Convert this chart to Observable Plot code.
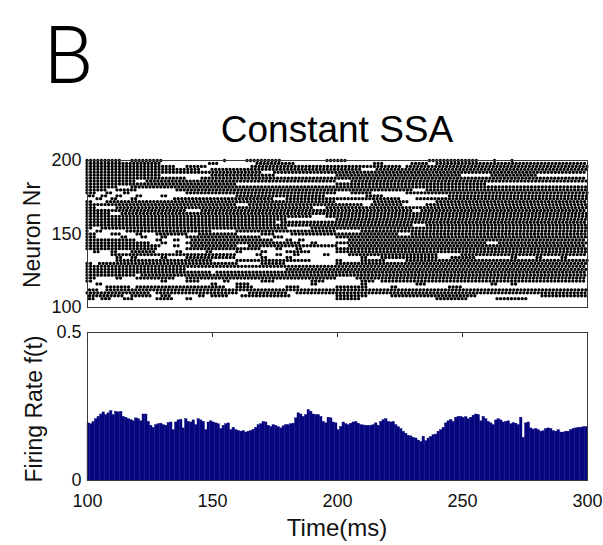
<!DOCTYPE html>
<html><head><meta charset="utf-8">
<script src="https://cdn.jsdelivr.net/npm/d3@7"></script>
<script src="https://cdn.jsdelivr.net/npm/@observablehq/plot@0.6"></script>
<style>
html,body{margin:0;padding:0;background:#fff;}
#fig{position:relative;width:603px;height:545px;overflow:hidden;font-family:"Liberation Sans",Arial,sans-serif;color:#111;}
#fig svg{position:absolute;left:0;}
.abs{position:absolute;white-space:nowrap;}
</style></head><body><div id="fig"></div>
<script>
// ---- data ----
const panelLetter = "B";
const chartTitle = "Constant SSA";
const neuronLabel = "Neuron Nr";
const rateLabel = "Firing Rate f(t)";
const timeLabel = "Time(ms)";

const neuronTicks = [100, 150, 200];
const timeTicks = [100, 150, 200, 250, 300];
const rateTicks = [0, 0.5];

// firing rate per 1 ms bin, t = 100 ... 299 ms
const firingRate = [
  0.193,0.19,0.198,0.207,0.215,0.223,0.23,0.221,0.227,0.234,
  0.221,0.232,0.23,0.232,0.215,0.212,0.207,0.204,0.2,0.21,
  0.207,0.2,0.223,0.223,0.198,0.185,0.178,0.187,0.19,0.192,
  0.187,0.185,0.194,0.196,0.17,0.196,0.203,0.205,0.176,0.207,
  0.198,0.196,0.203,0.187,0.207,0.203,0.198,0.17,0.196,0.2,
  0.196,0.193,0.19,0.174,0.185,0.19,0.193,0.17,0.178,0.17,
  0.167,0.165,0.167,0.162,0.165,0.167,0.171,0.178,0.187,0.19,
  0.198,0.196,0.185,0.181,0.187,0.185,0.18,0.176,0.183,0.187,
  0.187,0.19,0.192,0.21,0.227,0.223,0.215,0.221,0.238,0.232,
  0.223,0.221,0.221,0.215,0.198,0.193,0.212,0.21,0.196,0.193,
  0.17,0.181,0.196,0.19,0.187,0.192,0.196,0.198,0.192,0.187,
  0.186,0.185,0.185,0.185,0.187,0.193,0.185,0.198,0.204,0.207,
  0.198,0.196,0.198,0.187,0.18,0.174,0.165,0.158,0.151,0.149,
  0.144,0.142,0.135,0.13,0.148,0.133,0.142,0.147,0.153,0.155,
  0.165,0.17,0.178,0.193,0.2,0.204,0.198,0.212,0.215,0.215,
  0.212,0.214,0.207,0.212,0.219,0.223,0.221,0.2,0.215,0.207,
  0.198,0.193,0.187,0.203,0.207,0.203,0.196,0.198,0.2,0.19,
  0.194,0.192,0.187,0.212,0.144,0.193,0.196,0.176,0.172,0.174,
  0.17,0.165,0.167,0.174,0.176,0.174,0.167,0.165,0.17,0.162,
  0.162,0.165,0.165,0.17,0.174,0.176,0.178,0.178,0.18,0.18
];
const binStart = d3.range(100, 300); // 1 ms bins

// spike trains: [neuron, first spike (ms), last spike (ms)] of each run of regular spikes
const rasterSegments = [
  [200,100,114],[200,118,130],[200,155,156],[200,164,178],[200,196,204],[200,237,256],[200,263,264],[200,270,271],
  [198,100,130],[198,149,153],[198,168,183],[198,215,218],[198,230,236],[198,240,300],
  [196,100,135],[196,140,148],[196,166,226],[196,228,300],
  [194,100,145],[194,150,210],[194,216,300],
  [192,100,170],[192,175,300],
  [190,100,130],[190,150,175],[190,200,250],[190,262,280],
  [188,100,140],[188,146,300],
  [186,100,120],[186,124,200],[186,206,300],
  [184,100,160],[184,200,260],
  [182,100,112],[182,118,300],
  [180,100,108],[180,112,120],[180,136,230],[180,236,300],
  [178,100,104],[178,108,110],[178,115,117],[178,140,200],[178,206,214],[178,228,300],
  [176,101,103],[176,106,108],[176,112,114],[176,120,122],[176,130,132],[176,160,195],[176,212,218],[176,245,300],
  [174,104,106],[174,110,112],[174,118,120],[174,135,175],[174,180,225],[174,232,300],
  [172,100,102],[172,108,200],[172,215,228],[172,240,300],
  [170,100,160],[170,165,210],[170,214,226],[170,236,300],
  [168,100,104],[168,112,190],[168,196,300],
  [166,100,140],[166,146,230],[166,234,300],
  [164,100,110],[164,114,300],
  [162,100,190],[162,196,300],
  [160,100,180],[160,200,300],
  [158,100,175],[158,178,300],
  [156,100,230],[156,236,300],
  [154,100,102],[154,106,180],[154,190,300],
  [152,100,101],[152,104,106],[152,116,150],[152,160,200],[152,210,300],
  [150,100,104],[150,110,114],[150,120,122],[150,128,140],[150,145,160],[150,170,175],[150,182,225],[150,230,300],
  [148,100,103],[148,114,116],[148,122,124],[148,130,132],[148,140,170],[148,175,178],[148,200,300],
  [146,100,120],[146,128,130],[146,135,137],[146,142,175],[146,180,182],[146,185,187],[146,205,300],
  [144,100,125],[144,130,132],[144,140,185],[144,190,192],[144,200,260],[144,265,300],
  [142,100,130],[142,135,137],[142,142,160],[142,165,200],[142,205,300],
  [140,100,128],[140,140,170],[140,176,178],[140,184,186],[140,200,300],
  [138,103,105],[138,110,112],[138,118,128],[138,136,138],[138,148,150],[138,160,162],[138,170,172],[138,180,190],[138,200,300],
  [136,110,160],[136,168,170],[136,176,178],[136,183,185],[136,195,197],[136,205,240],[136,250,300],
  [134,112,114],[134,118,120],[134,130,132],[134,140,160],[134,170,172],[134,180,182],[134,210,212],[134,218,240],[134,246,256],[134,270,272],[134,280,282],[134,290,292],
  [132,112,150],[132,160,190],[132,200,202],[132,210,220],[132,228,300],
  [130,100,102],[130,105,160],[130,170,180],[130,200,300],
  [128,100,300],
  [126,100,140],[126,180,300],
  [124,100,150],[124,152,300],
  [122,100,120],[122,122,300],
  [120,100,104],[120,112,114],[120,120,135],[120,140,200],[120,208,300],
  [118,100,102],[118,130,132],[118,140,145],[118,155,157],[118,170,175],[118,190,195],[118,210,215],[118,218,300],
  [116,104,106],[116,150,152],[116,160,165],[116,190,192],[116,210,212],[116,232,236],[116,262,264],[116,270,272],
  [114,108,118],[114,120,155],[114,160,166],[114,180,185],[114,200,212],[114,222,224],[114,245,250],
  [112,101,105],[112,108,300],
  [110,100,125],[110,128,160],[110,165,180],[110,184,300],
  [108,101,114],[108,118,126],[108,130,134],[108,145,147],[108,150,156],[108,162,182],[108,200,212],[108,222,256],[108,282,300],
  [106,101,103],[106,106,110],[106,115,118],[106,128,134],[106,140,142],[106,200,210],[106,240,252],[106,264,276]
];

// ---- tables for the library ----
const segTable = rasterSegments.map(([neuron, start, end]) => ({neuron, start, end}));
const rateTable = binStart.map((t, i) => ({t0: t, t1: t + 1, rate: firingRate[i]}));

const fig = document.getElementById("fig");
const FONT = "Liberation Sans, Arial, sans-serif";
const frameColor = "#3a3a3a";

const raster = Plot.plot({
  width: 603, height: 320,
  marginLeft: 87, marginRight: 16, marginTop: 160, marginBottom: 13,
  x: {domain: [100, 300], axis: null},
  y: {domain: [100, 200], ticks: neuronTicks, tickSize: 0, tickPadding: 6, label: null},
  style: {background: "transparent", fontFamily: FONT, fontSize: "18px", color: "#111"},
  marks: [
    Plot.ruleY(segTable, {y: "neuron", x1: "start", x2: "end", stroke: "black",
      strokeWidth: 3.3, strokeLinecap: "round", strokeDasharray: "0,3.6"}),
    Plot.frame({stroke: frameColor}),
    Plot.tickY(neuronTicks, {y: d => d, insetRight: 495, stroke: frameColor}),
    Plot.tickY(neuronTicks, {y: d => d, insetLeft: 495, stroke: frameColor})
  ]
});
raster.style.top = "0px";
fig.appendChild(raster);

const rate = Plot.plot({
  width: 603, height: 225,
  marginLeft: 87, marginRight: 16, marginTop: 12, marginBottom: 65,
  x: {domain: [100, 300], ticks: timeTicks, tickSize: 0, tickPadding: 14, label: null},
  y: {domain: [0, 0.5], ticks: rateTicks, tickSize: 0, tickPadding: 6, label: null,
      tickFormat: d => String(d)},
  style: {background: "transparent", fontFamily: FONT, fontSize: "18px", color: "#111"},
  marks: [
    Plot.rectY(rateTable, {x1: "t0", x2: "t1", y: "rate", fill: "#06067e", stroke: "#06067e", strokeWidth: 0.4}),
    Plot.frame({stroke: frameColor}),
    Plot.tickX(timeTicks, {x: d => d, insetBottom: 143, stroke: frameColor}),
    Plot.tickY(rateTicks, {y: d => d, insetRight: 495, stroke: frameColor}),
    Plot.tickY(rateTicks, {y: d => d, insetLeft: 495, stroke: frameColor})
  ]
});
rate.style.top = "320px";
fig.appendChild(rate);

function addText(txt, css) {
  const d = document.createElement("div");
  d.className = "abs";
  d.textContent = txt;
  Object.assign(d.style, css);
  fig.appendChild(d);
}
addText(panelLetter, {left: "44px", top: "16px", fontSize: "80px", lineHeight: "80px",
  fontFamily: "Roboto, 'Liberation Sans', sans-serif", fontWeight: "300", color: "#000"});
addText(chartTitle, {left: "337px", top: "110.7px", fontSize: "37px", lineHeight: "37px",
  transform: "translateX(-50%)", color: "#000"});
addText(timeLabel, {left: "337px", top: "515.7px", fontSize: "24px", lineHeight: "24px",
  transform: "translateX(-50%)", color: "#111"});
addText(neuronLabel, {left: "32px", top: "235px", fontSize: "23px", lineHeight: "23px",
  transform: "translate(-50%,-50%) rotate(-90deg)", color: "#111"});
addText(rateLabel, {left: "34px", top: "409px", fontSize: "23px", lineHeight: "23px",
  transform: "translate(-50%,-50%) rotate(-90deg)", color: "#111"});
</script></body></html>
